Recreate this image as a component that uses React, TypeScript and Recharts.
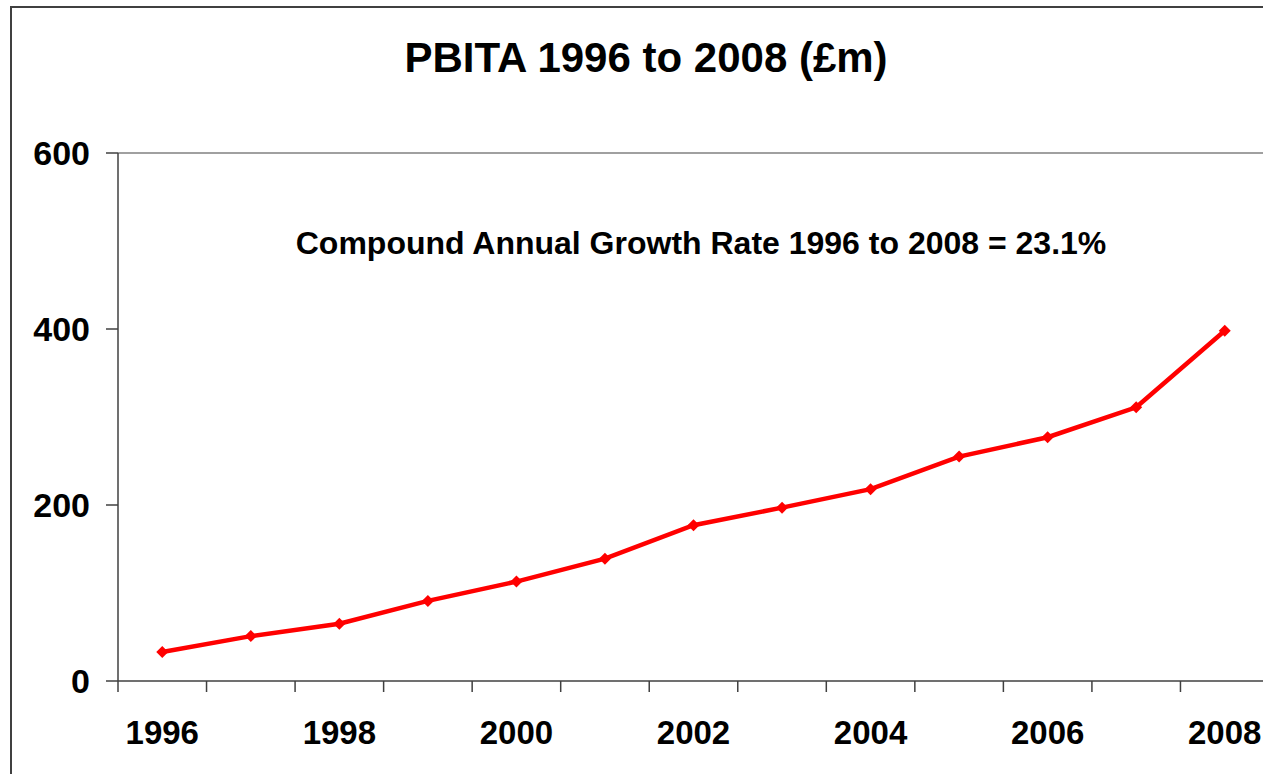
import { LineChart, Line, XAxis, YAxis, ReferenceLine } from 'recharts';

const years = ['1996', '1997', '1998', '1999', '2000', '2001', '2002', '2003', '2004', '2005', '2006', '2007', '2008'];
const pbita = [33, 51, 65, 91, 113, 139, 177, 197, 218, 255, 277, 311, 398];
const yTicks = [0, 200, 400, 600];

const title = 'PBITA 1996 to 2008 (£m)';
const note = 'Compound Annual Growth Rate 1996 to 2008 = 23.1%';

const data = years.map((year, i) => ({ year, value: pbita[i] }));

const FONT = '"Liberation Sans", Arial, sans-serif';
const CHART_W = 1290;
const CHART_H = 774;
const MARGIN = { top: 153, right: 21, bottom: 0, left: 0 };
const Y_AXIS_W = 118;
const BAND = (CHART_W - MARGIN.left - MARGIN.right - Y_AXIS_W) / years.length;

// excel style: tick marks sit between categories, label every other year
const YearTick = (props: any) => {
  const { x, y, index, payload } = props;
  return (
    <g>
      <line x1={x - BAND / 2} x2={x - BAND / 2} y1={y} y2={y + 11} stroke="#404040" strokeWidth={1.5} />
      {index % 2 === 0 && (
        <text x={x} y={y + 63} textAnchor="middle" fontSize={33} fontWeight="bold" fontFamily={FONT} fill="#000">
          {payload.value}
        </text>
      )}
    </g>
  );
};

const Diamond = (props: any) => {
  const { cx, cy } = props;
  if (cx == null || cy == null) return null;
  const r = 6;
  return <path d={`M${cx},${cy - r}L${cx + r},${cy}L${cx},${cy + r}L${cx - r},${cy}Z`} fill="#FF0000" stroke="none" />;
};

export default function App() {
  return (
    <div style={{ position: 'fixed', left: 0, top: 0, width: 1263, height: 774, overflow: 'hidden', background: '#fff' }}>
      <div
        style={{
          position: 'absolute',
          left: 10,
          top: 6,
          width: 2000,
          height: 2000,
          borderLeft: '2px solid #404040',
          borderTop: '2px solid #404040',
        }}
      />
      <div style={{ position: 'absolute', left: 0, top: 0 }}>
        <LineChart width={CHART_W} height={CHART_H} data={data} margin={MARGIN}>
          <ReferenceLine y={600} stroke="#808080" strokeWidth={1.5} />
          <XAxis
            dataKey="year"
            scale="band"
            interval={0}
            height={93}
            tickSize={0}
            tickMargin={0}
            tickLine={false}
            tick={<YearTick />}
            axisLine={{ stroke: '#404040', strokeWidth: 1.5 }}
          />
          <YAxis
            width={Y_AXIS_W}
            domain={[0, 600]}
            ticks={yTicks}
            tickSize={12}
            tickMargin={16}
            tickLine={{ stroke: '#404040', strokeWidth: 1.5 }}
            axisLine={{ stroke: '#404040', strokeWidth: 1.5 }}
            tick={{ fontSize: 34, fontWeight: 'bold', fontFamily: FONT, fill: '#000' }}
          />
          <Line
            dataKey="value"
            type="linear"
            stroke="#FF0000"
            strokeWidth={4.5}
            dot={<Diamond />}
            activeDot={false}
            isAnimationActive={false}
          />
        </LineChart>
      </div>
      <svg style={{ position: 'absolute', left: 0, top: 0 }} width={1263} height={774} pointerEvents="none">
        <text x={646} y={72} textAnchor="middle" fontSize={42} fontWeight="bold" fontFamily={FONT} fill="#000">
          {title}
        </text>
        <text x={701} y={254} textAnchor="middle" fontSize={32} fontWeight="bold" fontFamily={FONT} fill="#000">
          {note}
        </text>
      </svg>
    </div>
  );
}
